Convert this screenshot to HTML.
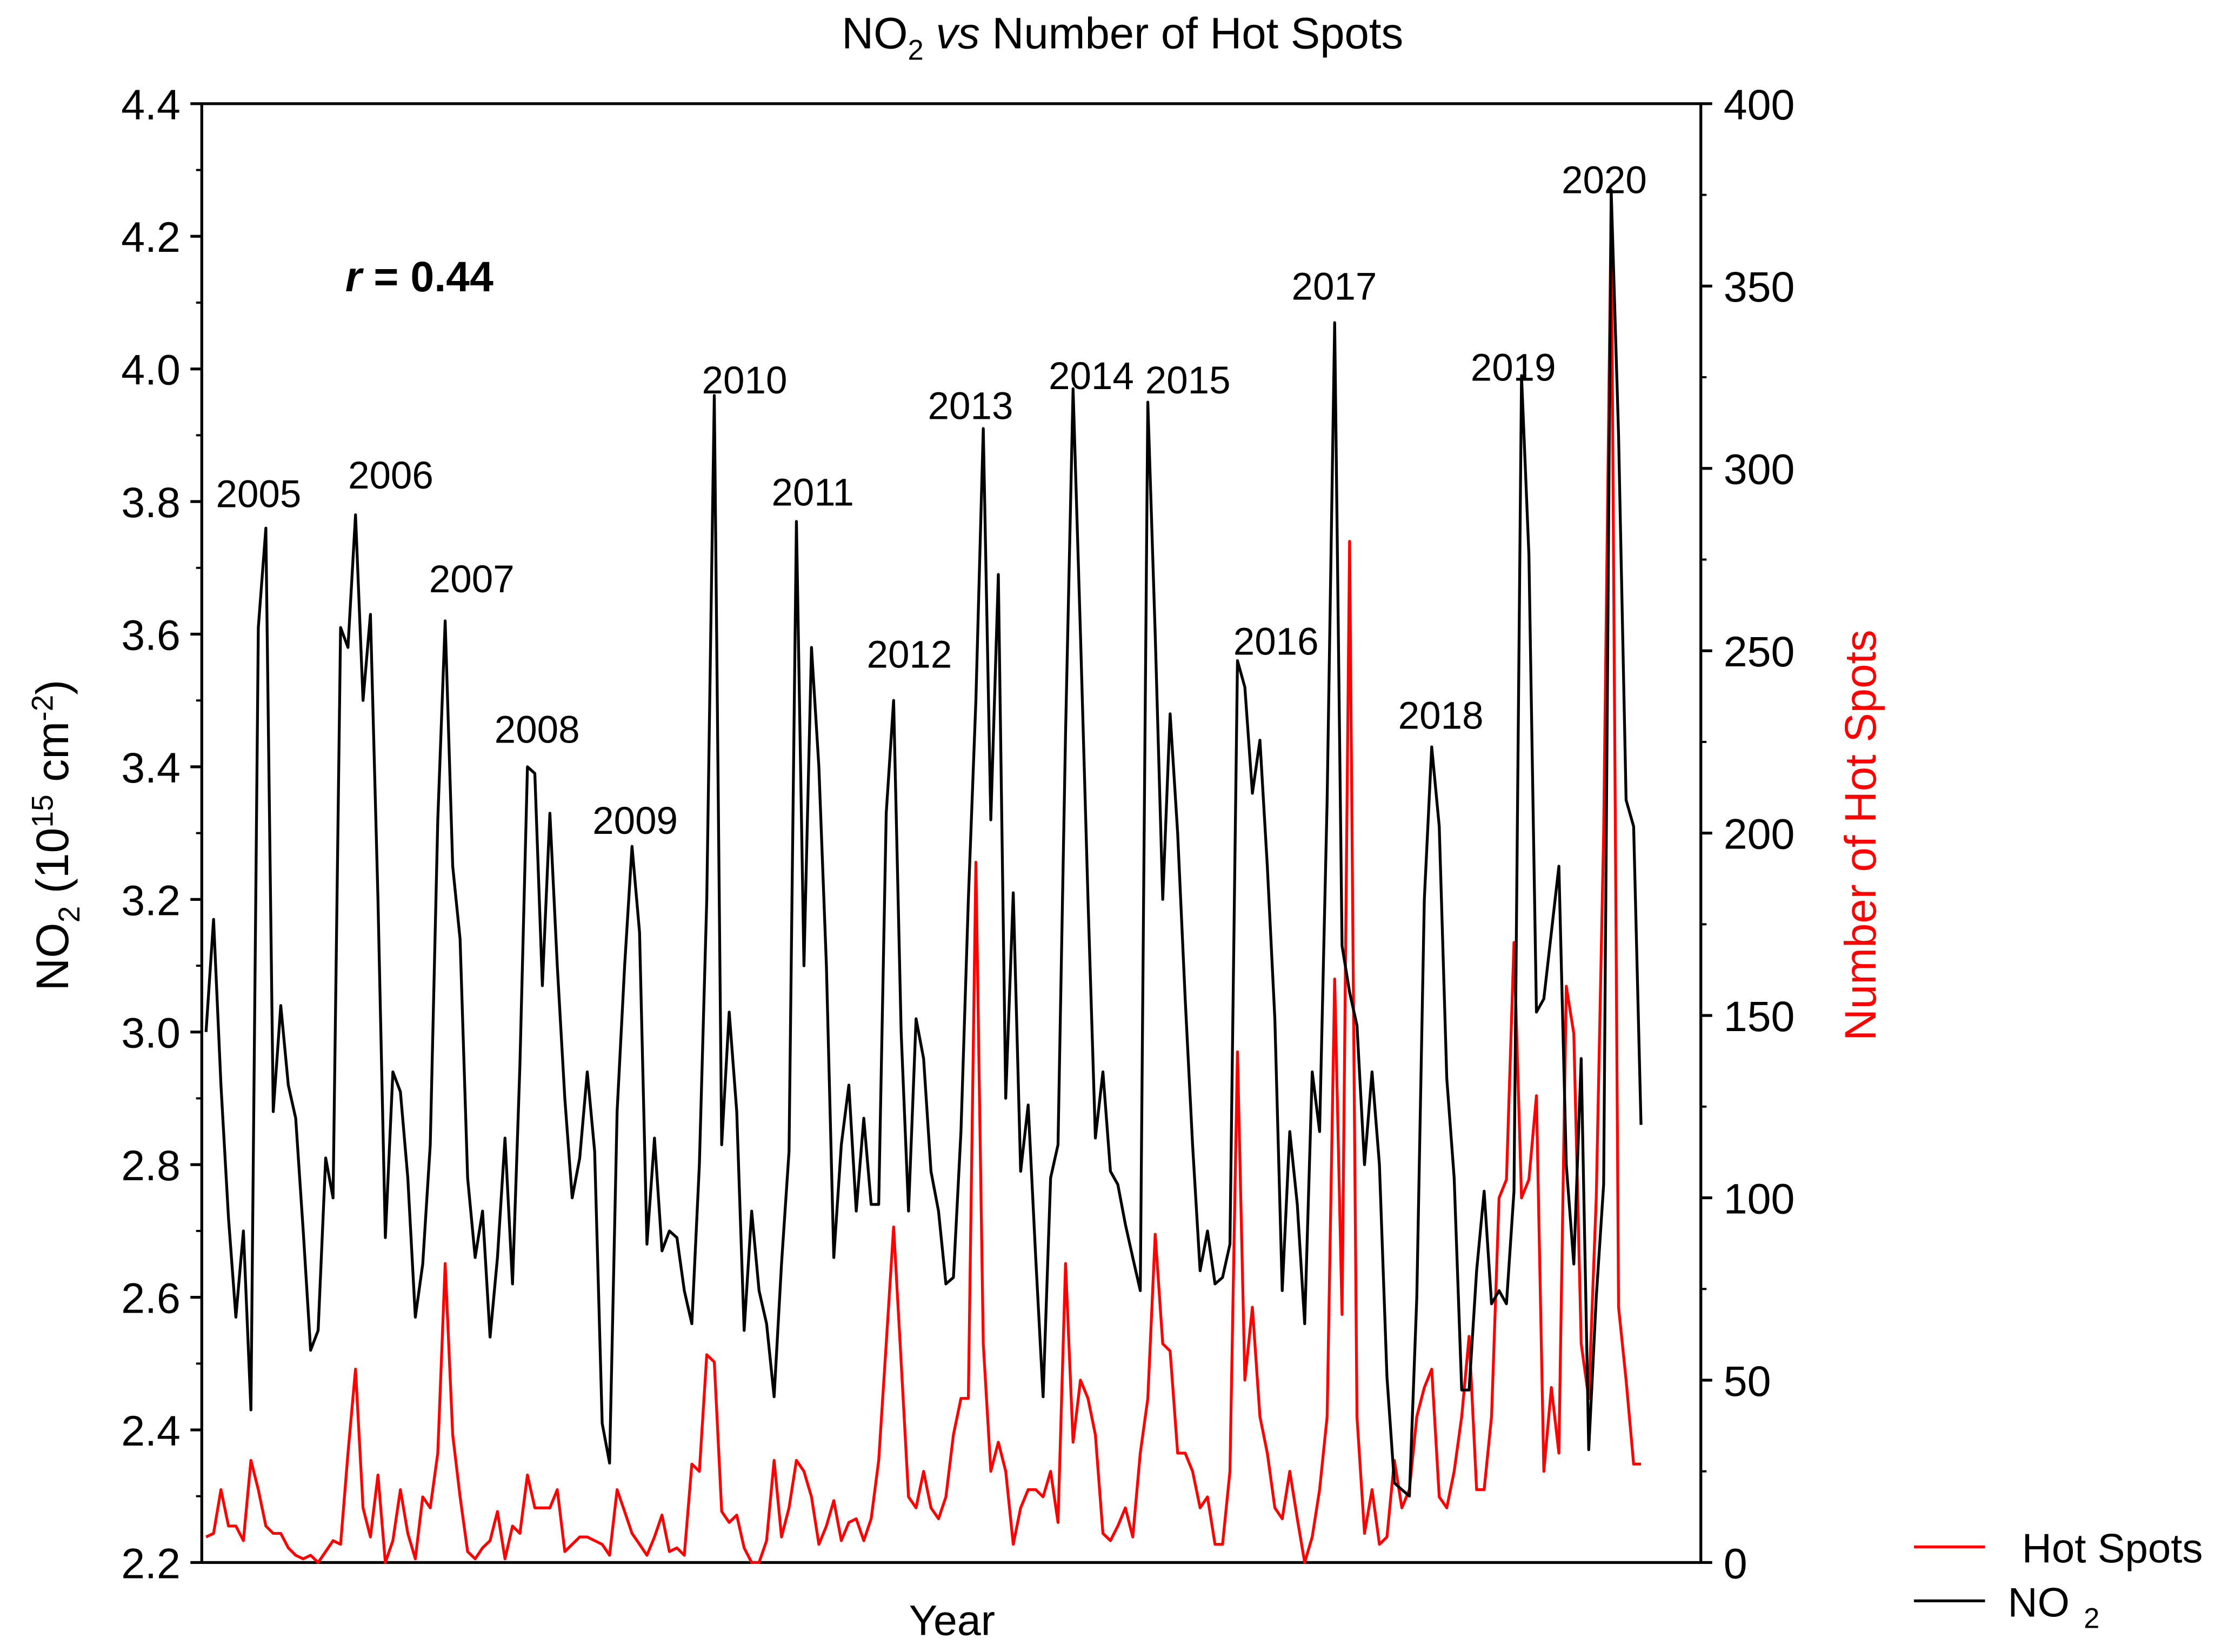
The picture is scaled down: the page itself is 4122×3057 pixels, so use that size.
<!DOCTYPE html>
<html><head><meta charset="utf-8"><style>
html,body{margin:0;padding:0;background:#fff;}
svg{display:block;font-family:"Liberation Sans",Arial,sans-serif;}
</style></head><body>
<svg id="chart" width="4122" height="3057" viewBox="0 0 1568 1163" preserveAspectRatio="none" xmlns="http://www.w3.org/2000/svg">
<rect width="1568" height="1163" fill="#fff"/>
<text x="790" y="34" font-size="31" text-anchor="middle">NO<tspan font-size="20" dy="8">2</tspan><tspan dy="-8"> </tspan><tspan font-style="italic">vs</tspan> Number of Hot Spots</text>
<g id="axes"></g>
<g id="marks"></g>
<text x="243" y="205" font-size="30" font-weight="bold"><tspan font-style="italic">r</tspan> = 0.44</text>
<text x="670" y="1151" font-size="30" text-anchor="middle">Year</text>
<text transform="translate(48,588) rotate(-90)" font-size="32" text-anchor="middle">NO<tspan font-size="21" dy="8">2</tspan><tspan dy="-8"> (10</tspan><tspan font-size="21" dy="-11">15</tspan><tspan dy="11"> cm</tspan><tspan font-size="21" dy="-11">-2</tspan><tspan dy="11">)</tspan></text>
<text transform="translate(1320,588) rotate(-90)" font-size="31" fill="#ff0000" text-anchor="middle">Number of Hot Spots</text>
<g>
<line x1="1347" y1="1089" x2="1397" y2="1089" stroke="#ff0000" stroke-width="2"/>
<text x="1423" y="1100" font-size="29">Hot Spots</text>
<line x1="1347" y1="1127" x2="1397" y2="1127" stroke="#000" stroke-width="2"/>
<text x="1413" y="1138" font-size="29">NO<tspan font-size="20" dx="10" dy="8">2</tspan></text>
</g>
</svg>
<script>
const no2Values = [3.00,3.17,2.92,2.72,2.57,2.70,2.43,3.61,3.76,2.88,3.04,2.92,
2.87,2.70,2.52,2.55,2.81,2.75,3.61,3.58,3.78,3.50,3.63,3.20,
2.69,2.94,2.91,2.78,2.57,2.65,2.83,3.32,3.62,3.25,3.14,2.78,
2.66,2.73,2.54,2.66,2.84,2.62,2.95,3.40,3.39,3.07,3.33,3.10,
2.90,2.75,2.81,2.94,2.82,2.41,2.35,2.88,3.10,3.28,3.15,2.68,
2.84,2.67,2.70,2.69,2.61,2.56,2.80,3.20,3.96,2.83,3.03,2.88,
2.55,2.73,2.61,2.56,2.45,2.65,2.82,3.77,3.10,3.58,3.40,3.10,
2.66,2.83,2.92,2.73,2.87,2.74,2.74,3.33,3.50,3.00,2.73,3.02,
2.96,2.79,2.73,2.62,2.63,2.85,3.20,3.50,3.91,3.32,3.69,2.90,
3.21,2.79,2.89,2.66,2.45,2.78,2.83,3.45,3.97,3.60,3.20,2.84,
2.94,2.79,2.77,2.71,2.66,2.61,3.95,3.60,3.20,3.48,3.30,3.05,
2.83,2.64,2.70,2.62,2.63,2.68,3.56,3.52,3.36,3.44,3.25,3.02,
2.61,2.85,2.74,2.56,2.94,2.85,3.35,4.07,3.13,3.06,3.01,2.80,
2.94,2.80,2.48,2.32,2.31,2.30,2.60,3.20,3.43,3.31,2.93,2.78,
2.46,2.46,2.64,2.76,2.59,2.61,2.59,2.76,3.99,3.72,3.03,3.05,
3.15,3.25,2.80,2.65,2.96,2.37,2.60,2.77,4.27,3.90,3.35,3.31,2.86];
const hotSpotValues = [7,8,20,10,10,6,28,20,10,8,8,4,
2,1,2,0,3,6,5,30,53,15,7,24,
0,6,20,8,1,18,15,30,82,35,18,3,
1,4,6,14,1,10,8,24,15,15,15,20,
3,5,7,7,6,5,2,20,14,8,5,2,
7,13,3,4,2,27,25,57,55,14,11,13,
4,0,0,6,28,7,15,28,25,18,5,10,
17,6,11,12,6,12,28,60,92,55,18,15,
25,15,12,18,35,45,45,192,60,25,33,25,
5,15,20,20,18,25,11,82,33,50,45,35,
8,6,10,15,7,30,45,90,60,58,30,30,
25,15,18,5,5,25,140,50,70,40,30,15,
12,25,12,0,7,20,40,160,68,280,40,8,
20,5,7,28,15,20,40,48,53,18,15,25,
40,62,20,20,40,100,105,170,100,105,128,25,
48,30,158,145,60,45,100,200,372,70,50,27,27];
const yearLabels = ["2005","2006","2007","2008","2009","2010","2011","2012","2013","2014","2015","2016","2017","2018","2019","2020"];
const yearLabelPos = [[182,348],[275,335],[332,408],[378,514],[447,578],[524,268],[572,347],[640,461],[683,286],[768,265],[836,268],[898,452],[939,202],[1014,504],[1065,259],[1129,127]];
const leftTicks = [2.2,2.4,2.6,2.8,3.0,3.2,3.4,3.6,3.8,4.0,4.2,4.4];
const rightTicks = [0,50,100,150,200,250,300,350,400];

const NS="http://www.w3.org/2000/svg";
const L=142,R=1197,T=73,B=1100;
const x=i=>145+i*5.26;
const yL=v=>B-(v-2.2)/2.2*(B-T);
const yR=v=>B-v/400*(B-T);
function mk(tag,attrs,parent){const e=document.createElementNS(NS,tag);for(const k in attrs)e.setAttribute(k,attrs[k]);parent.appendChild(e);return e;}
const axes=document.getElementById('axes'),marks=document.getElementById('marks');
let f=mk('rect',{x:L,y:T,width:R-L,height:B-T,fill:'none',stroke:'#000','stroke-width':2},axes);


leftTicks.forEach((v,k)=>{
  let t=mk('line',{x1:L-8,x2:L,y1:yL(v),y2:yL(v),stroke:'#000','stroke-width':2},axes);
  
  
  if(k<leftTicks.length-1){let m=mk('line',{x1:L-4,x2:L,y1:yL(v+0.1),y2:yL(v+0.1),stroke:'#000','stroke-width':1.5},axes);
  
  }
  let tx=mk('text',{x:L-15,y:yL(v)+11,'font-size':30,'text-anchor':'end'},axes);tx.textContent=v.toFixed(1);
  
  
});
rightTicks.forEach((v,k)=>{
  let t=mk('line',{x1:R,x2:R+8,y1:yR(v),y2:yR(v),stroke:'#000','stroke-width':2},axes);
  
  
  if(k<rightTicks.length-1){let m=mk('line',{x1:R,x2:R+4,y1:yR(v+25),y2:yR(v+25),stroke:'#000','stroke-width':1.5},axes);
  
  }
  let tx=mk('text',{x:R+16,y:yR(v)+11,'font-size':30},axes);tx.textContent=String(v);
  
  
});
let hp=hotSpotValues.map((v,i)=>x(i).toFixed(1)+','+yR(v).toFixed(1)).join(' ');
let hl=mk('polyline',{points:hp,fill:'none',stroke:'#ff0000','stroke-width':2,'stroke-linejoin':'round'},marks);


let np=no2Values.map((v,i)=>x(i).toFixed(1)+','+yL(v).toFixed(1)).join(' ');
let nl=mk('polyline',{points:np,fill:'none',stroke:'#000','stroke-width':2,'stroke-linejoin':'round'},marks);


yearLabels.forEach((s,k)=>{
  let tx=mk('text',{x:yearLabelPos[k][0],y:yearLabelPos[k][1]+9,'font-size':27,'text-anchor':'middle'},marks);tx.textContent=s;
  
  
});
</script>
</body></html>
